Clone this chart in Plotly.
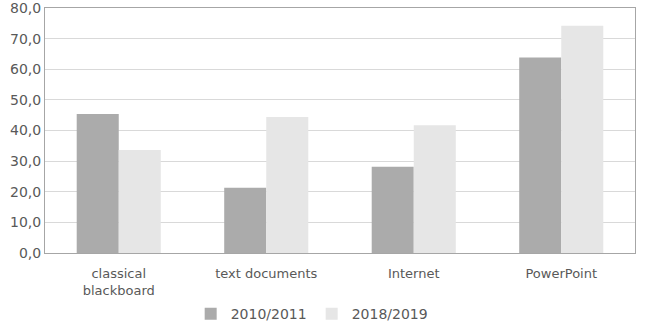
import plotly.graph_objects as go

categories = ["classical<br>blackboard", "text documents", "Internet", "PowerPoint"]
series_names = ["2010/2011", "2018/2019"]
values_2010 = [45.4, 21.3, 28.2, 63.8]
values_2018 = [33.6, 44.4, 41.7, 74.2]
y_ticks = [0, 10, 20, 30, 40, 50, 60, 70, 80]

fig = go.Figure()
fig.add_trace(go.Bar(x=categories, y=values_2010, name=series_names[0],
                     marker=dict(color="#ababab", line=dict(width=0))))
fig.add_trace(go.Bar(x=categories, y=values_2018, name=series_names[1],
                     marker=dict(color="#e6e6e6", line=dict(width=0))))

xfont = dict(family="DejaVu Sans, sans-serif", size=13, color="#595959")
yfont = dict(family="DejaVu Sans, sans-serif", size=14, color="#595959")
fig.update_layout(
    width=649, height=322,
    margin=dict(l=45, r=14, t=8, b=69, autoexpand=False),
    paper_bgcolor="white", plot_bgcolor="white",
    barmode="group", bargap=0.43, bargroupgap=0,
    separators=", ",
    font=xfont,
    showlegend=True,
    legend=dict(orientation="h", x=0.452, xanchor="center", y=-0.25, yanchor="middle",
                font=dict(family="DejaVu Sans, sans-serif", size=14, color="#595959"),
                itemwidth=30, tracegroupgap=0),
    xaxis=dict(showgrid=False, showline=True, linecolor="#a6a6a6", linewidth=1,
               mirror=True, ticks="", tickfont=xfont, automargin=False,
               ticklabelstandoff=8),
    yaxis=dict(range=[0, 80], tickvals=y_ticks, tickformat=".1f",
               showgrid=True, gridcolor="#d9d9d9", gridwidth=1,
               showline=True, linecolor="#a6a6a6", linewidth=1, mirror=True,
               zeroline=False, ticks="", tickfont=yfont, automargin=False,
               ticklabeloverflow="allow"),
)

fig.write_html("out.html")
